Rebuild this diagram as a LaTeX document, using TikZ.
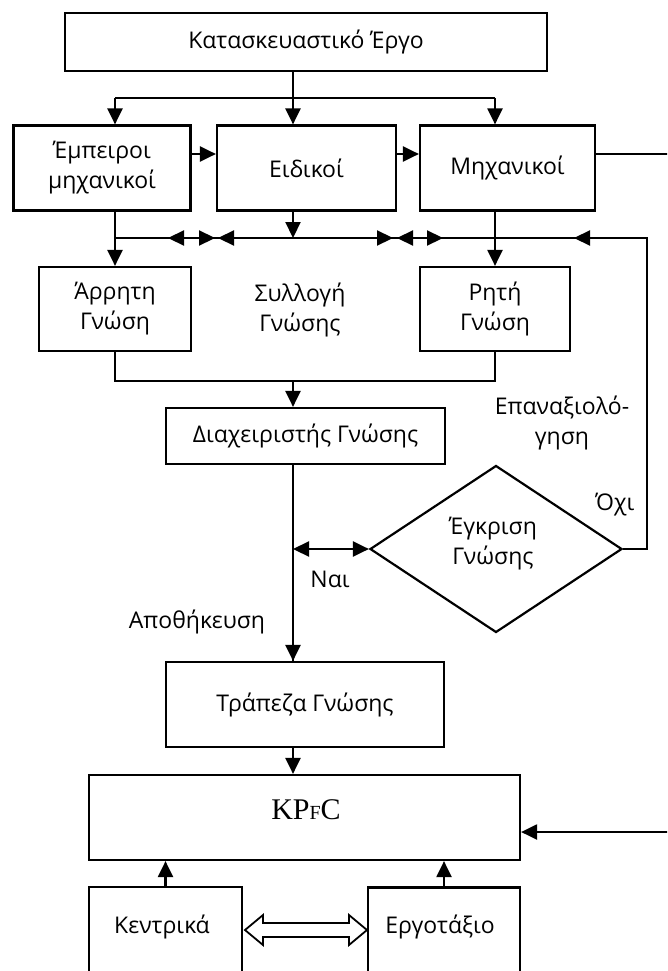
\documentclass[tikz,border=0pt]{standalone}
\usepackage{fontspec}
\setmainfont{Open Sans}
\newfontfamily\serifkp{Liberation Serif}
\usetikzlibrary{arrows.meta,shapes.geometric,calc}

\begin{document}
\begin{tikzpicture}[x=1pt,y=-1pt,
  line width=2.2pt,
  >={Triangle[length=16pt,width=15pt]},
  every node/.style={font=\fontsize{23}{30}\selectfont, align=center, inner sep=0pt},
  box/.style={draw, rectangle, line width=2.2pt},
  decision/.style={draw, diamond, line width=2.2pt},
  hollow/.style={draw, line width=1.8pt, fill=white, line join=miter},
]
\useasboundingbox (0,0) rectangle (667,971);
\clip (0,0) rectangle (667,971);

% boxes
\node[box, minimum width=482pt, minimum height=58pt] (proj) at (306,42) {Κατασκευαστικό Έργο};
\node[box, minimum width=177pt, minimum height=85pt] (exp)  at (102,168) {Έμπειροι\\μηχανικοί};
\node[box, minimum width=179pt, minimum height=85pt] (spec) at (306.5,168) {Ειδικοί};
\node[box, minimum width=175pt, minimum height=85pt] (eng)  at (507.5,168) {Μηχανικοί};
\node[box, minimum width=152pt, minimum height=84pt] (tacit) at (115,309) {Άρρητη\\Γνώση};
\node[box, minimum width=150pt, minimum height=84pt] (expl)  at (495,309) {Ρητή\\Γνώση};
\node (coll) at (300,310) {Συλλογή\\Γνώσης};
\node[box, minimum width=279pt, minimum height=56pt] (mgr) at (305.5,436) {Διαχειριστής Γνώσης};
\node[decision, minimum width=252pt, minimum height=167pt] (dia) at (496,549) {};
\node (diatext) at (493,544) {Έγκριση\\Γνώσης};
\node[box, minimum width=278pt, minimum height=85pt] (bank) at (305,704.5) {Τράπεζα Γνώσης};
\node[box, minimum width=431pt, minimum height=85pt] (kpfc) at (304.5,817.5) {};
\node (kpfctext) at (306,810) {\serifkp\fontsize{30}{30}\selectfont KP{\fontsize{20}{20}\selectfont F}C};
\node[box, minimum width=153pt, minimum height=88pt] (central) at (165.5,931) {};
\node[box, minimum width=152pt, minimum height=88pt] (site) at (444,931.5) {};
\node (centraltext) at (162,927) {Κεντρικά};
\node (sitetext) at (440,927) {Εργοτάξιο};

% free labels
\node (store) at (197,622) {Αποθήκευση};
\node (yes) at (330,579) {Ναι};
\node (no) at (615,505) {Όχι};
\node (reeval) at (562,423) {Επαναξιολό-\\γηση};

% helper coordinates
\coordinate (bus1) at (293,98);
\coordinate (bus2) at (293,238);
\coordinate (merge) at (293,381);
\coordinate (loop) at (647,238);
\coordinate (outA) at (672,154);
\coordinate (outB) at (672,832);

% distribution from the project
\draw (proj.south -| bus1) -- (bus1);
\draw (bus1 -| tacit.north) -- (bus1 -| expl.north);
\draw[->] (bus1 -| tacit.north) -- (tacit.north |- exp.north);
\draw[->] (bus1) -- (bus1 |- spec.north);
\draw[->] (bus1 -| expl.north) -- (expl.north |- eng.north);

% links between the groups
\draw[->] ([yshift=14pt]exp.east) -- ([yshift=14pt]spec.west);
\draw[->] ([yshift=14pt]spec.east) -- ([yshift=14pt]eng.west);
\draw ([yshift=14pt]eng.east) -- (outA);

% collection bus
\draw[->] (tacit.north |- exp.south) -- (tacit.north);
\draw[->] (expl.north |- eng.south) -- (expl.north);
\draw[->] (bus2 |- spec.south) -- (bus2);
\draw (bus2 -| tacit.north) -- (loop);
\coordinate (m1) at (168,238);
\coordinate (m2) at (215,238);
\coordinate (m3) at (218,238);
\coordinate (m4) at (393,238);
\coordinate (m5) at (397,238);
\coordinate (m6) at (443,238);
\coordinate (m7) at (574,238);
\draw[<->] (m1) -- (m2);
\draw[<->] (m3) -- (m4);
\draw[<->] (m5) -- (m6);

% merge into the manager
\draw (tacit.south) -- (tacit.south |- merge) -- (expl.south |- merge) -- (expl.south);
\draw[->] (merge) -- (bus2 |- mgr.north);

% approval loop
\draw (bus2 |- mgr.south) -- (bus2 |- bank.north);
\draw[->] ($(bus2 |- bank.north)+(0,-20)$) -- (bus2 |- bank.north);
\draw[<->] (bus2 |- dia.west) -- (dia.west);
\draw[->] (dia.east) -- (dia.east -| loop) -- (loop) -- (m7);

% knowledge bank to KPfC
\draw[->] (bus2 |- bank.south) -- (bus2 |- kpfc.north);
\draw[->] (outB) -- (kpfc.east |- outB);
\draw[->] (central.north) -- (central.north |- kpfc.south);
\draw[->] (site.north) -- (site.north |- kpfc.south);

% two-way hollow arrow
\coordinate (hl) at (245,930);
\coordinate (hr) at (367,930);
\draw[hollow] (hl) -- ($(hl)+(18,-15)$) -- ($(hl)+(18,-7)$) -- ($(hr)+(-18,-7)$) -- ($(hr)+(-18,-15)$)
  -- (hr) -- ($(hr)+(-18,15)$) -- ($(hr)+(-18,7)$) -- ($(hl)+(18,7)$) -- ($(hl)+(18,15)$) -- cycle;
\end{tikzpicture}
\end{document}
